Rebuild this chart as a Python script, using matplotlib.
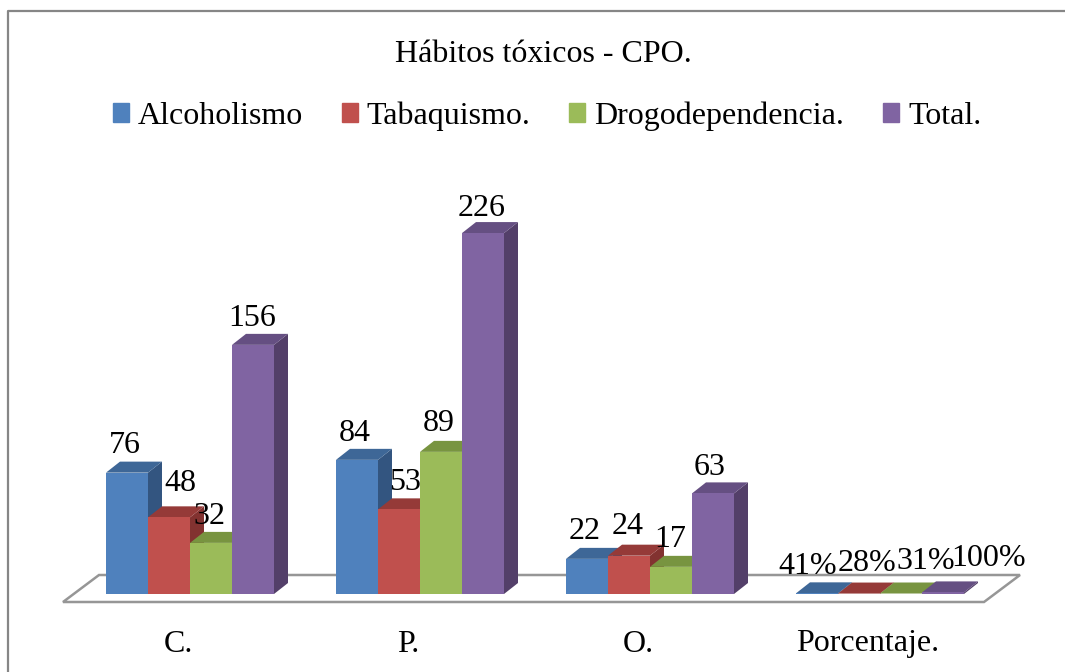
# Habitos toxicos - CPO (barras con efecto 3D)
import numpy as np
import matplotlib
matplotlib.use('Agg')
import matplotlib.pyplot as plt
from matplotlib.patches import Rectangle

plt.rcParams['font.family'] = ['Liberation Serif', 'DejaVu Sans']

categorias = ['C.', 'P.', 'O.', 'Porcentaje.']
alcoholismo = [76, 84, 22, 0.41]
tabaquismo = [48, 53, 24, 0.28]
drogodependencia = [32, 89, 17, 0.31]
total = [156, 226, 63, 1.0]
nombres = ['Alcoholismo', 'Tabaquismo.', 'Drogodependencia.', 'Total.']
textos = [['76', '84', '22', '41%'],
          ['48', '53', '24', '28%'],
          ['32', '89', '17', '31%'],
          ['156', '226', '63', '100%']]

colores = ['#4F81BD', '#C0504D', '#9BBB59', '#8064A2']
techos = ['#3E6797', '#953A38', '#789440', '#654F82']
lados = ['#335580', '#823230', '#66803A', '#533F69']
# desplazamiento de cada etiqueta en pixeles (dx, dy sobre la barra)
offsets = [[(-2, 27), (-2, 26), (-2, 27), (-9, 27)],
           [(11, 34), (6, 27), (-1, 29), (8, 30)],
           [(-2, 26), (-2, 28), (-1, 27), (25, 32)],
           [(-1, 26), (-1, 25), (-3, 26), (46, 34)]]

W, H = 1065, 672
x0_px, paso_px = 190, 230     # centro del primer grupo y separacion
y0_px, escala = 594, 1.597    # linea base y pixeles por unidad
ancho = 42 / paso_px
dx = 14 / paso_px
dy = 11 / escala
FS = 23

fig = plt.figure(figsize=(W / 100, H / 100), dpi=100)
ax = fig.add_axes([0, 0, 1, 1])
ax.set_xlim(-x0_px / paso_px, (W - x0_px) / paso_px)
ax.set_ylim(-(H - y0_px) / escala, y0_px / escala)
ax.axis('off')


def px(x):
    return (x - x0_px) / paso_px


def py(y):
    return (y0_px - y) / escala


# marco exterior: solo lado izquierdo y superior, el resto queda cortado
ax.plot([px(8), px(8), px(W + 5)], [py(H + 5), py(11), py(11)], color='#868686', lw=1.6, zorder=1)

# piso
ax.fill([px(63), px(99), px(1020), px(984)], [py(602), py(575), py(575), py(602)],
        facecolor='white', edgecolor='#969696', lw=1.8, zorder=2, joinstyle='miter')

series = [alcoholismo, tabaquismo, drogodependencia, total]
x = np.arange(len(categorias))
z = 3
handles = []
for s, vals in enumerate(series):
    pos = x + (s - 1.5) * ancho
    for i in range(len(vals)):
        izq = pos[i] - ancho / 2
        der = pos[i] + ancho / 2
        v = vals[i]
        ax.fill([der, der + dx, der + dx, der], [0, dy, v + dy, v], color=lados[s], lw=0, zorder=z)
        ax.fill([izq, izq + dx, der + dx, der], [v, v + dy, v + dy, v], color=techos[s], lw=0, zorder=z)
    ax.bar(pos, vals, width=ancho, color=colores[s], linewidth=0, zorder=z + 0.5)
    handles.append(Rectangle((0, 0), 1, 1, color=colores[s]))
    z += 1

for s, vals in enumerate(series):
    pos = x + (s - 1.5) * ancho
    for i in range(len(vals)):
        ox, oy = offsets[s][i]
        ax.annotate(textos[s][i], (pos[i], vals[i]), xytext=(ox * 0.72, oy * 0.72),
                    textcoords='offset points', ha='center', va='center',
                    fontsize=FS, color='black', zorder=20)

# nombres de las categorias, corridos a la izquierda del centro del grupo
for i, c in enumerate(categorias):
    ax.text(x[i] - 12 / paso_px, py(644), c, ha='center', va='center', fontsize=FS, color='black', zorder=20)

ax.text(px(543), py(54), 'Hábitos tóxicos - CPO.', ha='center', va='center', fontsize=FS, color='black')

ax.legend(handles, nombres, loc='center', bbox_to_anchor=(547 / W, 1 - 116 / H), ncol=4,
          frameon=False, fontsize=FS, handlelength=0.5, handleheight=0.5,
          handletextpad=0.277, columnspacing=1.22, borderpad=0, borderaxespad=0)

fig.savefig('out.png', dpi=100)
